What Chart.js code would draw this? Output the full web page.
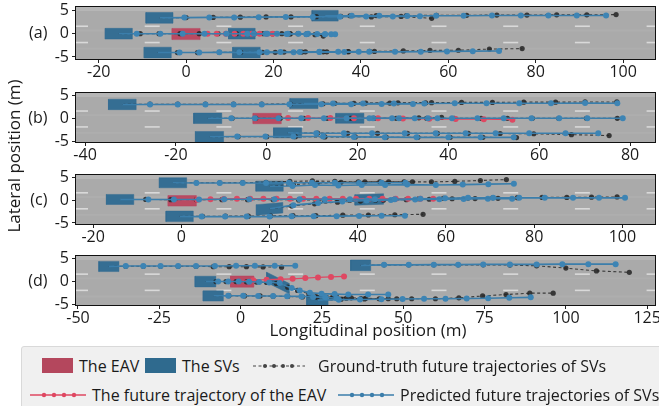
<!DOCTYPE html>
<html>
<head>
<meta charset="utf-8">
<script src="https://cdn.jsdelivr.net/npm/chart.js@4.4.1/dist/chart.umd.min.js"></script>
<style>
  html, body { margin: 0; padding: 0; background: #fff; }
  body { width: 659px; height: 406px; position: relative; overflow: hidden; font-family: 'Open Sans', sans-serif; color: #1a1a1a; }
  canvas { position: absolute; left: 0; }
  .t { position: absolute; white-space: nowrap; line-height: 20px; font-size: 16px; }
  .sw { position: absolute; width: 31px; height: 15px; }
  svg { position: absolute; }
</style>
</head>
<body>
<canvas id="pa" width="659" height="83" style="top:0px"></canvas>
<canvas id="pb" width="659" height="80" style="top:86px"></canvas>
<canvas id="pc" width="659" height="80" style="top:168px"></canvas>
<canvas id="pd" width="659" height="80" style="top:249px"></canvas>

<div class="t" style="font-size:17px;left:-86px;top:146px;width:200px;text-align:center;transform:rotate(-90deg);">Lateral position (m)</div>
<div class="t" style="font-size:17px;left:368px;top:320px;transform:translateX(-50%);">Longitudinal position (m)</div>

<div style="position:absolute;left:21px;top:346px;width:650px;height:61px;background:#f0f0f0;border:1px solid #d9d9d9;border-radius:3px;"></div>
<div class="sw" style="left:42px;top:358px;background:#b4475d;"></div>
<div class="t" style="left:79px;top:356px;">The EAV</div>
<div class="sw" style="left:145px;top:358px;background:#2f6a8e;"></div>
<div class="t" style="left:182px;top:356px;">The SVs</div>
<svg width="52" height="10" style="left:253px;top:361px">
  <line x1="0" y1="5" x2="52" y2="5" stroke="#444" stroke-width="1.2" stroke-dasharray="3,2.5"/>
  <circle cx="12" cy="5" r="2" fill="#444"/><circle cx="21" cy="5" r="2" fill="#444"/>
  <circle cx="30" cy="5" r="2" fill="#444"/><circle cx="39" cy="5" r="2" fill="#444"/>
</svg>
<div class="t" style="left:318px;top:356px;">Ground-truth future trajectories of SVs</div>
<svg width="56" height="10" style="left:30px;top:390px">
  <line x1="0" y1="5" x2="56" y2="5" stroke="#df4862" stroke-width="1.4"/>
  <circle cx="14" cy="5" r="2.2" fill="#df4862"/><circle cx="24" cy="5" r="2.2" fill="#df4862"/>
  <circle cx="34" cy="5" r="2.2" fill="#df4862"/><circle cx="44" cy="5" r="2.2" fill="#df4862"/>
</svg>
<div class="t" style="left:92px;top:385px;">The future trajectory of the EAV</div>
<svg width="56" height="10" style="left:338px;top:390px">
  <line x1="0" y1="5" x2="56" y2="5" stroke="#3b7eab" stroke-width="1.4"/>
  <circle cx="14" cy="5" r="2.2" fill="#3b7eab"/><circle cx="24" cy="5" r="2.2" fill="#3b7eab"/>
  <circle cx="34" cy="5" r="2.2" fill="#3b7eab"/><circle cx="44" cy="5" r="2.2" fill="#3b7eab"/>
</svg>
<div class="t" style="left:400px;top:385px;">Predicted future trajectories of SVs</div>

<script>
// ---- data ----
const panelLabels = ['(a)', '(b)', '(c)', '(d)'];
const xMin = [-25.2, -42, -23.9, -50.6];
const xMax = [107.3, 85.5, 107.4, 127.4];
const xStep = [20, 20, 20, 25];
const yMin = [-5.43, -5.22, -5.22, -5.05];
const yMax = [5.73, 5.57, 5.5, 5.51];
const laneMarks = [1.6, -1.9];

// vehicle boxes: [centre x, centre y, length, width, heading slope]
const eavBoxes = [
  [0, -0.07, 6.4, 2.4, 0],
  [0.1, -0.05, 6.2, 2.3, 0],
  [0.2, -0.15, 6.4, 2.3, 0],
  [0.5, 0, 7.2, 2.4, 0]
];

const eavPathA = [[0,0],[4.9,0],[7.0,0],[9.1,0],[11.1,0],[13.1,0],[15.0,0],[16.8,0],[18.5,0],[19.8,0]];
const eavPathB = [[0,0],[4.7,0.05],[9.1,0.05],[14.0,0.05],[19.2,0],[24.5,0],[30.0,-0.05],[35.8,-0.1],[41.6,-0.15],[47.8,-0.2],[54.1,-0.3]];
const eavPathC = [[0,0],[3.6,0.1],[6.6,0.2],[9.6,0.25],[12.6,0.3],[15.6,0.3],[18.6,0.3],[21.6,0.3],[24.6,0.3],[27.6,0.3],
  [30.6,0.3],[33.6,0.3],[36.6,0.3],[39.6,0.3],[42.6,0.3],[45.6,0.3],[48.6,0.3],[51.4,0.3],[54.2,0.3],[57.1,0.3]];
const eavPathD = [[0.5,0.1],[3.9,0.3],[8.0,0.4],[12.3,0.5],[16.0,0.6],[19.9,0.75],[23.8,0.9],[27.8,1.0],[31.8,1.1]];

const svBoxesA = [[-6.1,3.4,6.2,2.3,0],[31.8,3.85,6.0,2.3,0],[-15.4,0,6.2,2.3,0],[12.75,0,6.1,2.3,0],[-6.5,-4.05,6.2,2.3,0],[13.8,-4.05,6.3,2.3,0]];
const svBoxesB = [[-31.8,3.05,6.1,2.3,0],[8.2,3.25,6.2,2.2,0],[-13.0,0,6.2,2.3,0],[18.3,0,6.2,2.2,0],[-12.6,-4.05,6.2,2.3,0],[4.6,-3.2,6.2,2.2,0]];
const svBoxesC = [[-1.9,3.8,6.2,2.2,0],[20.0,3.05,6.2,2.2,0],[-13.9,0.15,6.2,2.2,0],[42.6,0.15,6.5,2.3,0.03],[20.0,-1.9,6.0,2.3,0.08],[-0.4,-3.55,6.2,2.3,0]];
const svBoxesD = [[-40.5,3.25,6.2,2.2,0],[36.9,3.5,6.2,2.3,0],[-10.8,0,6.4,2.3,0],[11.5,-0.3,7.0,2.2,-0.35],[-8.4,-3.1,6.2,2.2,0],[23.6,-4.05,6.6,2.2,0]];

const predPathsA = [
  [[-6.1,3.4],[-0.4,3.45],[5.3,3.5],[11.0,3.5],[16.6,3.55],[22.8,3.6],[29.0,3.6],[35.2,3.65],[41.2,3.7],[47.3,3.7],[53.5,3.75]],
  [[31.8,3.85],[37.9,3.85],[44.2,3.85],[50.6,3.8],[57.2,3.85],[63.5,3.85],[70.0,3.9],[76.6,3.9],[82.9,3.9],[89.4,3.9],[96.1,3.9]],
  [[-15.4,0],[-11.3,0],[-5.9,0],[-0.8,0],[4.2,0],[9.2,0],[14.0,0],[18.6,0],[23.0,-0.05],[27.5,-0.1],[31.8,-0.1]],
  [[12.75,0],[15.5,0],[18.2,0],[20.8,0],[23.3,0],[25.7,0],[27.9,0],[30.0,-0.05],[31.8,-0.1],[33.2,-0.1],[34.1,-0.1]],
  [[-6.5,-4.05],[-1.5,-4.05],[3.0,-4.05],[7.6,-4.0],[12.2,-4.0],[16.8,-4.0],[21.6,-3.95],[26.0,-3.95],[30.5,-3.9],[34.8,-3.9],[39.5,-3.85]],
  [[13.8,-4.05],[18.5,-4.0],[24.6,-4.0],[30.5,-3.95],[36.2,-3.95],[41.9,-3.9],[47.8,-3.9],[53.7,-3.85],[59.7,-3.8],[65.6,-3.75],[71.6,-3.7]]
];
const gtPathsA = [
  [[-6.1,3.4],[0,3.45],[6.2,3.5],[12.4,3.55],[18.3,3.6],[24.0,3.6],[29.8,3.65],[35.4,3.7],[42.4,3.6],[49.2,3.7],[56.2,3.3]],
  [[31.8,3.85],[37.5,3.85],[43.5,3.9],[50.4,3.9],[57.3,3.95],[64.2,3.95],[71.1,4.0],[78.0,4.0],[84.8,4.05],[91.7,4.05],[98.4,4.1]],
  [[-15.4,0],[-10.5,0],[-6.2,0],[-1.4,0],[3.0,0],[7.3,0],[11.5,0],[15.6,0],[19.8,0],[23.8,-0.05],[27.6,-0.1]],
  [[12.75,0],[15.2,0],[17.6,0],[19.8,0],[21.9,0],[23.8,0],[25.6,0],[27.5,-0.1],[29.5,-0.2],[31.4,-0.5]],
  [[-6.5,-4.05],[-2.0,-4.05],[2.6,-4.05],[7.6,-4.0],[12.5,-4.0],[17.5,-4.0],[22.4,-3.95],[27.3,-3.9],[32.2,-3.9],[37.1,-3.85],[42.0,-3.8]],
  [[13.8,-4.05],[20.4,-4.0],[26.5,-3.95],[31.4,-3.9],[37.1,-3.85],[43.1,-3.8],[49.7,-3.7],[55.8,-3.6],[62.3,-3.55],[69.4,-3.3],[76.9,-3.2]]
];

const predPathsB = [
  [[-31.8,3.05],[-25.7,3.05],[-19.6,3.05],[-13.5,3.05],[-7.3,3.05],[-1.1,3.05],[5.0,3.1],[12.0,3.1],[18.6,3.1],[25.3,3.15],[32.2,3.15]],
  [[8.2,3.25],[14.6,3.25],[21.2,3.25],[28.0,3.25],[34.7,3.25],[41.4,3.3],[48.4,3.3],[55.6,3.3],[62.6,3.3],[70.1,3.35],[77.2,3.3]],
  [[-13.0,0],[-7.8,0],[-2.6,0],[2.6,0],[7.6,0],[12.6,0],[17.6,0],[22.6,0],[27.6,0],[32.6,0],[37.6,0]],
  [[18.3,0],[23.4,0],[29.1,0],[35.5,0],[40.8,0],[46.4,0],[52.2,0],[58.3,0],[64.4,0],[70.6,0],[78.4,0]],
  [[-12.6,-4.05],[-6.5,-4.0],[-0.3,-4.0],[5.9,-4.0],[12.4,-4.0],[19.2,-4.1],[26.0,-4.15],[33.0,-4.2],[40.0,-4.2],[47.1,-4.2],[54.4,-4.2]],
  [[4.6,-3.2],[10.9,-3.3],[17.0,-3.3],[23.2,-3.3],[30.4,-3.3],[37.2,-3.3],[43.8,-3.3],[50.4,-3.3],[57.8,-3.3],[65.8,-3.3],[73.0,-3.3]]
];
const gtPathsB = [
  [[-31.8,3.05],[-25.7,3.1],[-19.6,3.1],[-13.5,3.1],[-7.3,3.1],[-1.1,3.1],[5.2,3.15],[12.4,3.2],[19.2,3.3],[27.1,3.35],[35.0,3.4]],
  [[8.2,3.25],[15.0,3.3],[21.8,3.35],[28.9,3.4],[36.3,3.45],[42.9,3.5],[49.7,3.5],[56.6,3.55],[63.6,3.55],[70.1,3.6],[77.1,3.6]],
  [[-13.0,0],[-7.6,0],[-2.4,0],[3.0,0],[8.2,0],[13.3,0],[18.5,0],[23.5,0],[28.5,0],[33.5,0.1],[38.5,0.2]],
  [[18.3,0],[23.7,0],[29.5,0],[35.2,0],[41.3,0],[47.2,0],[53.0,0],[58.5,0],[64.3,0],[70.4,0],[77.2,0]],
  [[-12.6,-4.05],[-6.3,-4.05],[0,-4.05],[6.3,-4.05],[12.8,-4.1],[19.5,-4.1],[26.3,-4.15],[33.3,-4.2],[40.4,-4.2],[47.6,-4.2],[55.0,-4.25]],
  [[4.6,-3.2],[11.2,-3.25],[17.8,-3.3],[24.4,-3.3],[31.0,-3.3],[37.6,-3.3],[44.4,-3.3],[51.4,-3.35],[58.8,-3.4],[67.1,-3.6],[75.4,-3.8]]
];

const predPathsC = [
  [[-1.9,3.8],[3.4,3.75],[8.7,3.75],[13.9,3.75],[19.2,3.75],[24.4,3.8],[29.6,3.8],[34.8,3.8],[40.3,3.75],[45.4,3.8],[50.8,3.8]],
  [[20.0,3.05],[25.2,3.1],[30.3,3.3],[35.6,3.2],[40.9,3.3],[46.2,3.3],[51.2,3.4],[57.7,3.3],[63.8,3.4],[69.6,3.5],[75.4,3.6]],
  [[-13.9,0.15],[-7.5,0.15],[-1.7,0.15],[4.0,0.15],[9.7,0.2],[15.4,0.2],[21.1,0.2],[26.8,0.2],[32.5,0.2],[38.2,0.2],[43.9,0.2]],
  [[42.6,0.15],[48.4,0.2],[54.2,0.3],[59.8,0.4],[65.0,0.5],[70.7,0.5],[76.6,0.5],[82.4,0.5],[88.8,0.5],[94.7,0.5],[100.6,0.5]],
  [[20.0,-1.9],[25.4,-1.1],[31.0,-0.6],[36.5,-0.3],[42.0,-0.1],[47.5,0.05],[53.0,0.15],[58.5,0.2],[64.0,0.25],[69.5,0.3],[75.0,0.3]],
  [[-0.4,-3.55],[4.6,-3.6],[9.9,-3.6],[14.8,-3.6],[20.0,-3.6],[25.0,-3.55],[30.0,-3.5],[35.2,-3.5],[40.3,-3.45],[45.4,-3.4],[50.7,-3.4]]
];
const gtPathsC = [
  [[-1.9,3.8],[3.4,3.8],[8.7,3.8],[13.9,3.85],[19.2,3.9],[24.6,4.1],[29.7,4.2],[34.8,4.1],[40.1,4.0],[45.0,4.0],[50.5,4.0]],
  [[20.0,3.05],[25.4,3.4],[30.8,3.7],[36.2,3.9],[41.6,4.0],[47.0,4.0],[52.4,4.0],[56.7,4.0],[62.0,4.1],[67.8,4.3],[73.7,4.5]],
  [[-13.9,0.15],[-8.1,0.15],[-2.4,0.1],[3.4,0.1],[9.2,0.1],[15.0,0.1],[20.8,0.1],[26.6,0.05],[32.4,0],[38.2,0],[44.0,0]],
  [[42.6,0.15],[48.2,0.2],[53.8,0.3],[59.4,0.4],[65.0,0.45],[70.6,0.5],[76.2,0.55],[81.8,0.6],[87.4,0.6],[93.0,0.65],[98.8,0.7]],
  [[20.0,-1.9],[25.0,-1.3],[30.2,-0.8],[35.4,-0.45],[40.6,-0.2],[45.8,0],[51.0,0.1],[56.2,0.2],[61.4,0.3],[66.6,0.35],[71.8,0.4]],
  [[-0.4,-3.55],[4.8,-3.55],[10.0,-3.5],[15.2,-3.5],[20.2,-3.45],[25.3,-3.4],[30.5,-3.4],[36.6,-3.3],[42.4,-3.25],[48.4,-3.2],[54.8,-3.1]]
];

const predPathsD = [
  [[-40.5,3.25],[-35.3,3.35],[-29.9,3.35],[-24.6,3.35],[-19.2,3.35],[-13.7,3.35],[-7.9,3.35],[-1.4,3.4],[4.4,3.4],[10.5,3.4],[16.8,3.4]],
  [[36.9,3.5],[44.1,3.6],[51.7,3.6],[59.4,3.65],[66.9,3.65],[74.6,3.7],[82.8,3.7],[91.0,3.7],[98.9,3.75],[106.9,3.75],[115.3,3.75]],
  [[-10.8,0],[-6.9,0],[-3.8,0],[-0.6,0],[2.6,-0.05],[5.7,-0.1],[8.8,-0.2],[12.0,-0.3]],
  [[11.5,-0.3],[15.7,-1.4],[18.2,-1.9],[21.3,-2.4],[24.9,-2.6],[28.9,-2.7],[33.1,-2.8],[39.2,-2.8],[45.4,-2.8]],
  [[-8.4,-3.05],[-3.8,-3.05],[0.8,-3.05],[5.4,-3.1],[10.0,-3.1],[14.3,-3.15],[18.7,-3.2],[22.3,-3.3],[26.0,-3.4],[29.5,-3.6]],
  [[23.6,-4.0],[30.2,-3.9],[36.7,-3.85],[43.3,-3.8],[49.8,-3.75],[56.4,-3.7],[63.0,-3.7],[69.5,-3.65],[76.1,-3.6],[82.6,-3.5],[89.2,-3.4]]
];
const gtPathsD = [
  [[-40.5,3.25],[-35.3,3.3],[-29.9,3.3],[-24.6,3.3],[-19.2,3.3],[-13.7,3.3],[-8.4,3.2],[-3.5,3.2],[1.8,3.2],[6.9,3.15],[12.6,3.1]],
  [[36.9,3.5],[44.1,3.6],[51.7,3.6],[59.4,3.6],[66.9,3.6],[74.6,3.6],[82.8,3.55],[91.0,3.4],[100.0,2.9],[109.4,2.3],[119.5,2.0]],
  [[-10.8,0],[-7.6,0],[-4.5,0],[-1.4,0],[1.8,-0.05],[4.9,-0.1],[8.0,-0.2],[11.0,-0.4]],
  [[11.5,-0.3],[14.5,-1.2],[17.5,-1.9],[21.0,-2.6],[25.0,-3.0],[29.5,-3.3],[34.0,-3.5],[38.5,-3.6],[42.6,-3.7],[48.0,-3.7]],
  [[-8.4,-3.05],[-3.6,-3.05],[1.2,-3.1],[6.0,-3.1],[10.0,-3.15],[14.5,-3.2],[19.0,-3.3],[23.5,-3.4],[28.0,-3.5],[32.5,-3.6],[37.0,-3.65]],
  [[23.6,-4.0],[30.9,-3.8],[38.1,-3.75],[45.4,-3.7],[52.6,-3.7],[59.9,-3.7],[67.1,-3.5],[74.4,-3.1],[81.6,-2.8],[88.9,-2.5],[96.1,-2.5]]
];

// ---- styles ----
const SV_COLOR = 'rgba(46,106,145,0.95)';
const EAV_COLOR = 'rgba(186,68,94,0.95)';
const STYLE = {
  gt:   { line: 'rgba(30,30,30,0.8)', dot: 'rgba(35,35,35,0.85)', width: 1.1, dash: [3, 2.5], r: 2.6, order: 3 },
  eav:  { line: '#df4862', dot: '#df4862', width: 1.3, dash: [], r: 3, order: 2 },
  pred: { line: '#3b7eab', dot: '#3d84b4', width: 1.6, dash: [], r: 3, order: 1 }
};

function boxPoints(b) {
  const [cx, cy, len, wid, slope] = b;
  const h = len / 2, dy = h * slope, w = wid / 2;
  return [
    {x: cx - h, y: cy - dy - w}, {x: cx + h, y: cy + dy - w},
    {x: cx + h, y: cy + dy + w}, {x: cx - h, y: cy - dy + w},
    {x: cx - h, y: cy - dy - w}
  ];
}

function boxSet(b, color) {
  return {
    data: boxPoints(b), showLine: true, fill: 'shape',
    backgroundColor: color, borderColor: color, borderWidth: 0.5,
    pointRadius: 0, order: 4, clip: 0
  };
}

function pathSet(path, kind) {
  const st = STYLE[kind];
  return {
    data: path.map(([x, y]) => ({x, y})),
    showLine: true, fill: false,
    borderColor: st.line, borderWidth: st.width, borderDash: st.dash,
    pointRadius: c => c.dataIndex === 0 ? 0 : st.r,
    pointBackgroundColor: st.dot, pointBorderWidth: 0,
    order: st.order, clip: 0
  };
}

const roadPlugin = {
  id: 'road',
  beforeDatasetsDraw(chart) {
    const {ctx, chartArea: a, scales: {y}} = chart;
    ctx.save();
    ctx.fillStyle = '#aaaaaa';
    ctx.fillRect(a.left, a.top, a.width, a.height);
    ctx.fillStyle = 'rgba(255,255,255,0.14)';
    ctx.fillRect(a.left, a.top, a.width, 4);
    ctx.fillStyle = 'rgba(255,255,255,0.05)';
    ctx.fillRect(a.left, y.getPixelForValue(0.9), a.width, 2);
    ctx.fillRect(a.left, y.getPixelForValue(-3), a.width, 2);
    ctx.strokeStyle = '#d9d9d9';
    ctx.lineWidth = 1.6;
    laneMarks.forEach(v => {
      const py = y.getPixelForValue(v);
      for (let k = 0; k < 10; k++) {
        const x0 = Math.max(a.left, a.left + k * 71.7 - 3);
        const x1 = Math.min(a.right, a.left + k * 71.7 + 12);
        if (x1 > x0) { ctx.beginPath(); ctx.moveTo(x0, py); ctx.lineTo(x1, py); ctx.stroke(); }
      }
    });
    ctx.restore();
  },
  afterDraw(chart) {
    const {ctx, chartArea: a} = chart;
    ctx.save();
    ctx.strokeStyle = '#111';
    ctx.lineWidth = 1;
    ctx.strokeRect(Math.round(a.left) - 0.5, Math.round(a.top) - 0.5, Math.round(a.width) + 1, Math.round(a.height) + 1);
    ctx.restore();
  }
};

Chart.defaults.font.family = "'Open Sans', sans-serif";
Chart.defaults.font.size = 16;
Chart.defaults.color = '#1a1a1a';

function makePanel(i, id, svBoxes, gtPaths, eavPath, predPaths) {
  const datasets = [];
  svBoxes.forEach(b => datasets.push(boxSet(b, SV_COLOR)));
  datasets.push(boxSet(eavBoxes[i], EAV_COLOR));
  gtPaths.forEach(p => datasets.push(pathSet(p, 'gt')));
  datasets.push(pathSet(eavPath, 'eav'));
  predPaths.forEach(p => datasets.push(pathSet(p, 'pred')));

  new Chart(document.getElementById(id), {
    type: 'scatter',
    data: { datasets },
    options: {
      responsive: false,
      animation: false,
      events: [],
      devicePixelRatio: 1,
      layout: { padding: { top: 7, right: 4, bottom: 0, left: 0 } },
      plugins: { legend: { display: false }, tooltip: { enabled: false } },
      scales: {
        x: {
          type: 'linear', min: xMin[i], max: xMax[i],
          afterFit: s => { s.height = 24; s.paddingLeft = 0; s.paddingRight = 0; },
          ticks: { stepSize: xStep[i], includeBounds: false, autoSkip: false, maxRotation: 0, padding: 0 },
          grid: { display: true, drawOnChartArea: false, drawTicks: true, tickLength: 4, color: '#222' },
          border: { display: false }
        },
        y: {
          type: 'linear', min: yMin[i], max: yMax[i],
          afterFit: s => { s.width = 76; s.paddingTop = 0; s.paddingBottom = 0; },
          ticks: {
            stepSize: 5, includeBounds: false, autoSkip: false, padding: 3,
            callback: v => v === 0 ? panelLabels[i] + '   0' : v
          },
          grid: { display: true, drawOnChartArea: false, drawTicks: true, tickLength: 4, color: '#222' },
          border: { display: false }
        }
      }
    },
    plugins: [roadPlugin]
  });
}

makePanel(0, 'pa', svBoxesA, gtPathsA, eavPathA, predPathsA);
makePanel(1, 'pb', svBoxesB, gtPathsB, eavPathB, predPathsB);
makePanel(2, 'pc', svBoxesC, gtPathsC, eavPathC, predPathsC);
makePanel(3, 'pd', svBoxesD, gtPathsD, eavPathD, predPathsD);
</script>
</body>
</html>
